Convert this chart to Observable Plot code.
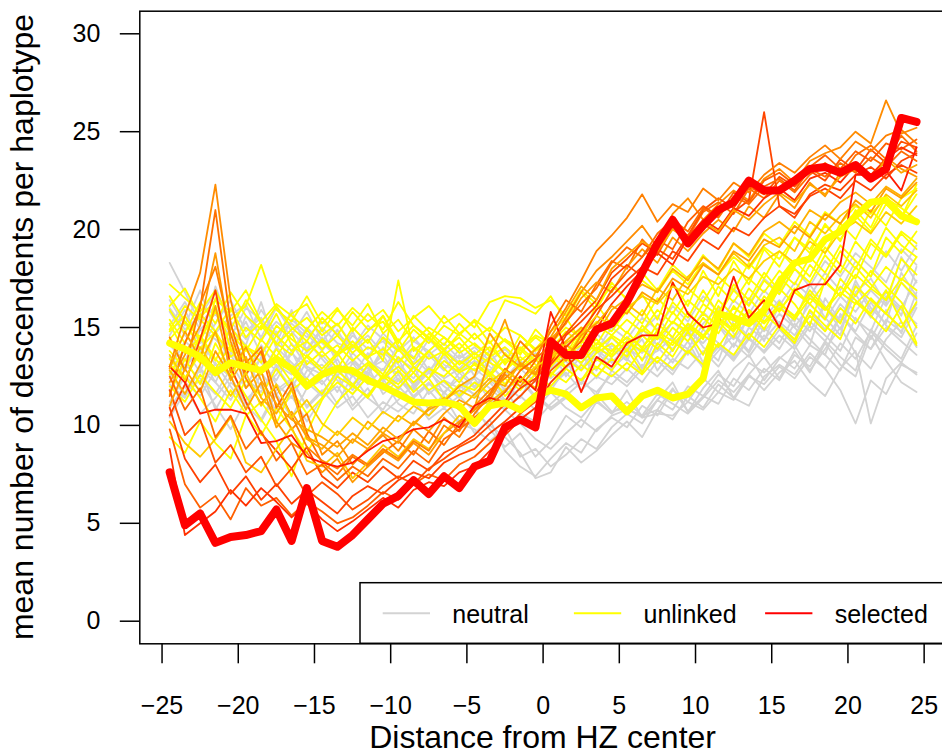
<!DOCTYPE html>
<html>
<head>
<meta charset="utf-8">
<script src="https://cdn.jsdelivr.net/npm/d3@7"></script>
<script src="https://cdn.jsdelivr.net/npm/@observablehq/plot@0.6"></script>
<style>
  html, body { margin: 0; padding: 0; background: #fff; }
  #chart svg { display: block; }
</style>
</head>
<body>
<div id="chart"></div>
<script>
// ---------- data ----------
const distance = [-24.5,-23.5,-22.5,-21.5,-20.5,-19.5,-18.5,-17.5,-16.5,-15.5,-14.5,-13.5,-12.5,-11.5,-10.5,-9.5,-8.5,-7.5,-6.5,-5.5,-4.5,-3.5,-2.5,-1.5,-0.5,0.5,1.5,2.5,3.5,4.5,5.5,6.5,7.5,8.5,9.5,10.5,11.5,12.5,13.5,14.5,15.5,16.5,17.5,18.5,19.5,20.5,21.5,22.5,23.5,24.5];
const xTicks = [-25,-20,-15,-10,-5,0,5,10,15,20,25];
const yTicks = [0,5,10,15,20,25,30];
const legendLabels = ["neutral","unlinked","selected"];

// neutral replicates
const neutral1 = [18.3,16.8,15.2,16.1,14.0,15.3,13.6,14.8,12.9,13.8, 14.9,13.1,12.5,13.7,12.2,13.4,12.0,12.9,11.6,12.7, 11.9,12.8,11.2,12.3,11.4,12.6,13.3,12.1,13.8,12.9, 13.6,14.4,12.8,13.9,14.7,13.2,15.1,14.0,15.6,14.3, 16.2,15.0,14.1,16.5,15.3,17.4,16.0,15.2,17.8,16.6];
const neutral2 = [12.1,11.4,13.0,10.8,12.2,11.5,10.3,11.8,12.4,10.9, 11.7,12.6,11.0,11.9,10.6,11.3,12.1,10.8,11.5,10.2, 10.9,9.8,8.9,9.6,8.4,9.2,10.5,9.9,11.2,10.6, 11.8,10.4,11.3,12.2,10.7,11.9,12.8,11.4,12.6,13.5, 12.4,13.8,12.7,14.2,13.1,12.5,14.6,13.3,12.2,11.7];
const neutral3 = [14.6,15.9,14.2,17.1,15.0,14.1,16.3,13.9,15.4,14.7, 13.8,14.9,13.4,12.6,14.0,13.1,12.4,13.6,12.8,13.9, 12.5,13.3,12.1,11.4,12.7,11.8,12.9,13.7,12.4,13.5, 14.2,12.9,14.6,13.8,15.1,14.0,13.3,15.4,14.5,16.1, 15.2,14.3,16.7,15.5,14.6,17.2,15.8,16.9,15.6,18.1];
const neutral4 = [11.2,12.5,11.8,13.2,12.0,10.9,12.7,11.6,10.4,11.9, 12.3,11.1,12.6,11.4,10.8,12.0,11.2,10.5,11.7,10.9, 9.6,10.3,8.7,7.9,7.4,8.3,9.1,8.6,9.8,10.4, 9.9,11.0,10.5,11.8,11.2,12.4,11.7,12.9,13.6,12.3, 13.4,14.1,12.8,13.9,15.0,13.7,12.9,14.4,15.3,14.0];
const neutral5 = [13.5,12.8,14.4,13.1,12.5,14.0,13.2,12.3,13.7,12.9, 12.1,13.0,11.8,12.7,11.9,12.4,11.5,12.2,11.3,12.0, 11.6,11.0,11.9,10.6,10.2,11.1,11.8,12.4,11.5,12.8, 12.2,13.1,12.5,13.4,12.9,13.8,13.0,14.2,13.5,14.6, 13.9,15.2,14.4,13.6,15.7,14.8,16.3,15.1,14.5,16.0];
const neutral6 = [12.9,14.3,13.6,12.2,13.8,12.6,14.1,13.0,11.9,13.3, 12.8,11.7,13.2,12.1,12.9,11.8,13.0,11.6,12.3,11.9, 12.4,11.3,10.8,10.1,9.3,8.8,9.6,10.3,9.7,10.5, 10.8,10.5,11.6,11.1,10.6,11.4,12.3,11.7,12.6,11.8, 12.7,13.3,12.2,11.5,12.9,13.8,10.1,12.4,13.2,12.6];
const neutral7 = [15.8,14.6,13.9,15.2,16.4,14.8,15.5,14.2,15.9,13.7, 14.5,13.6,14.8,13.3,12.8,14.1,13.5,12.7,13.9,13.2, 13.8,12.6,13.4,12.9,12.2,13.6,14.3,13.1,14.7,13.9, 13.3,14.8,15.6,14.4,13.9,15.2,16.0,14.7,13.8,15.5, 16.4,15.3,17.2,16.1,14.9,16.8,17.5,16.2,18.6,17.3];
const neutral8 = [10.4,11.7,12.3,11.0,9.8,11.3,12.1,10.7,11.5,10.2, 11.4,12.0,10.8,11.6,12.4,11.1,10.6,11.8,10.9,11.5, 10.7,10.0,9.4,8.6,7.3,7.6,8.9,8.1,8.7,9.5, 10.2,9.4,10.8,10.3,11.5,10.9,12.1,11.4,11.0,12.5, 13.1,12.6,13.7,12.9,14.2,13.4,14.8,13.9,13.2,14.7];
const neutral9 = [13.0,12.2,11.5,12.8,13.6,12.4,11.7,13.1,12.6,14.3, 13.4,12.5,13.7,12.9,13.3,12.6,14.0,12.8,13.5,12.4, 12.9,12.3,11.7,12.5,11.9,12.8,13.5,12.9,13.9,13.2, 14.0,13.4,13.8,14.5,13.6,14.9,14.2,13.5,15.0,14.4, 15.3,14.6,15.8,14.9,16.2,15.4,14.8,16.6,15.9,15.2];
const neutral10 = [14.1,13.3,14.9,14.4,13.6,15.6,14.5,16.0,14.8,13.9, 15.0,14.2,13.9,14.6,13.7,13.2,14.3,13.8,12.9,13.6, 13.1,13.8,12.6,12.9,13.4,12.4,13.0,14.1,13.3,14.5, 13.7,14.9,14.1,15.3,14.6,15.8,15.0,16.4,15.7,16.9, 16.1,17.3,16.6,17.8,16.9,18.4,17.6,18.9,17.9,19.2];
const neutral11 = [11.8,13.1,12.4,11.6,12.9,13.5,11.9,12.6,13.8,12.2, 11.5,12.8,12.1,13.0,11.6,12.3,11.9,12.7,12.0,11.4, 12.2,11.6,10.9,11.5,10.8,11.7,10.9,10.4,11.3,10.6, 11.2,10.5,10.8,11.9,10.7,11.5,11.1,12.4,11.8,12.9, 12.3,13.6,13.0,14.3,13.5,12.8,14.9,14.1,13.4,15.1];
const neutral12 = [16.4,15.1,16.9,14.7,15.6,16.2,14.4,15.3,14.6,15.8, 14.3,15.2,14.1,13.5,14.7,13.9,13.2,14.4,13.6,12.9, 13.7,13.0,12.4,13.3,12.6,13.9,12.5,13.6,12.8,14.1, 13.4,12.7,14.0,13.2,14.3,12.9,13.8,14.6,13.7,15.0, 14.2,15.6,14.8,16.1,15.3,16.7,15.5,16.8,16.0,17.4];
const neutral13 = [12.4,13.9,12.7,14.8,13.2,11.9,13.5,12.8,14.2,13.0, 12.6,13.4,12.0,12.8,13.6,12.3,11.8,12.9,12.2,11.6, 12.5,11.9,11.2,10.7,11.6,10.9,11.5,12.2,11.7,12.6, 12.0,12.9,13.5,12.8,13.9,13.1,14.0,13.4,14.5,13.7, 14.6,13.9,15.1,14.3,15.6,14.7,13.9,15.4,14.8,16.2];
const neutral14 = [10.9,12.0,10.6,11.4,12.5,11.1,10.2,11.6,12.3,11.0, 11.8,10.9,11.5,10.4,11.2,10.7,11.4,10.3,10.9,10.1, 9.8,9.2,9.9,8.4,8.8,7.9,8.5,9.3,8.8,9.9, 10.6,10.1,11.3,10.8,12.0,11.5,12.6,12.0,13.2,12.7, 13.5,12.9,14.1,13.6,12.8,14.5,13.9,15.0,14.3,13.6];
const neutral15 = [15.1,16.3,14.9,15.7,14.5,16.0,15.4,14.6,13.8,15.0, 14.2,13.5,14.6,13.9,14.3,13.4,12.9,13.8,13.1,12.7, 13.3,12.8,13.6,13.0,12.7,14.0,13.4,14.6,13.8,15.0, 14.4,15.5,14.9,16.1,15.3,16.6,15.8,17.0,16.2,17.5, 16.8,18.0,17.1,18.4,17.6,18.8,18.1,17.3,19.0,18.2];
const neutral16 = [12.7,11.5,12.9,12.2,11.3,12.6,13.4,12.1,11.4,12.8, 13.1,12.3,11.6,12.5,11.8,12.6,11.4,12.1,11.7,12.4, 11.5,12.2,11.3,11.9,12.6,12.0,12.7,11.8,12.5,12.1, 12.9,12.2,13.3,12.6,13.8,13.0,14.1,13.3,14.4,13.8, 14.9,14.1,15.3,14.6,13.8,15.5,14.4,15.9,14.7,16.8];
const neutral17 = [14.3,13.0,13.8,12.5,14.6,13.3,12.6,14.0,13.2,12.4, 13.6,12.7,13.3,12.5,13.9,12.8,12.1,13.0,12.4,12.9, 12.0,12.7,11.8,12.4,11.5,10.8,11.4,10.9,11.6,10.7, 10.9,10.4,10.6,10.5,11.2,10.8,11.7,11.3,12.5,12.1, 13.0,12.4,13.5,12.9,11.8,10.1,12.3,11.6,13.1,12.7];
const neutral18 = [16.0,14.9,15.6,16.8,15.3,14.4,15.9,14.7,15.2,14.5, 15.3,14.7,14.0,15.1,14.4,13.8,14.5,13.6,14.2,13.4, 14.0,13.3,13.9,13.1,13.7,12.9,13.6,13.2,14.0,13.5, 14.3,13.7,14.5,13.9,14.8,14.2,15.1,14.4,15.5,14.8, 15.7,15.0,16.2,15.4,16.6,15.8,16.9,16.1,17.3,16.4];

// unlinked replicates
const unlinked1 = [17.2,16.5,15.8,16.9,15.4,16.1,18.2,15.9,15.3,16.6, 15.2,16.0,14.8,15.7,14.9,16.3,15.1,14.4,15.6,14.7, 15.3,14.2,15.0,14.6,13.9,14.8,15.5,14.3,16.2,15.1, 15.8,16.7,15.4,17.3,16.1,17.9,16.6,18.4,17.2,19.0, 18.1,19.6,18.8,20.3,19.4,21.0,20.1,21.7,20.6,22.3];
const unlinked2 = [11.6,13.4,12.1,14.2,12.8,11.5,10.3,9.2,7.4,9.6, 11.3,12.5,12.0,13.1,12.4,13.5,12.7,13.8,12.9,12.2, 13.2,12.6,13.7,12.8,13.4,12.5,13.6,14.1,12.9,13.8, 14.5,13.3,14.9,13.8,15.2,14.4,16.1,15.0,16.5,15.6, 17.0,16.2,15.1,17.4,16.6,18.1,17.2,16.4,18.5,17.7];
const unlinked3 = [14.8,15.6,14.3,15.9,14.7,13.8,15.1,14.2,13.6,14.9, 13.9,14.6,13.7,14.4,13.3,17.4,13.8,14.5,13.6,14.2, 13.4,14.0,13.2,14.6,13.8,14.3,13.6,15.0,14.1,15.4, 14.7,15.9,14.8,16.3,15.5,16.9,15.7,17.2,16.4,17.8, 16.9,18.4,17.6,19.1,18.2,17.5,19.3,18.6,19.8,19.0];
const unlinked4 = [13.1,12.4,13.7,12.9,14.1,13.3,12.6,13.9,12.8,13.5, 12.7,13.6,14.3,13.4,14.5,13.8,14.9,14.2,15.1,14.6, 15.4,14.8,16.4,16.1,15.7,16.6,15.3,16.8,15.9,17.3, 16.4,17.8,16.9,18.2,17.5,18.7,17.9,19.3,18.6,19.8, 19.2,20.4,19.7,20.9,20.3,21.2,20.8,21.6,21.1,20.5];
const unlinked5 = [9.4,8.6,10.2,9.1,8.3,10.5,11.2,10.1,11.8,10.6, 11.4,12.2,11.6,12.5,11.9,12.8,11.7,12.4,11.3,12.1, 11.8,12.6,11.5,12.3,11.9,12.7,12.2,13.1,12.5,13.4, 12.8,13.9,13.2,14.3,13.7,14.6,14.0,15.2,14.4,15.7, 15.0,14.2,15.9,15.1,14.4,16.3,15.6,14.8,16.1,14.2];
const unlinked6 = [15.9,14.7,16.3,15.2,16.8,15.6,14.9,16.1,15.0,14.3, 15.5,14.6,15.8,14.9,15.3,14.2,15.6,14.8,14.1,15.2, 14.4,15.0,14.3,13.7,14.5,13.9,14.8,14.2,15.1,14.6, 15.4,14.8,15.9,15.2,16.4,15.7,17.1,16.3,17.5,16.8, 17.9,17.2,18.6,17.8,19.2,18.4,17.6,19.6,18.8,19.9];
const unlinked7 = [12.6,14.0,13.2,16.5,13.9,12.8,14.4,13.5,14.7,13.1, 13.8,12.9,14.1,13.3,12.6,13.9,13.0,12.4,13.7,12.8, 13.5,12.7,12.1,13.2,12.5,13.6,12.9,12.3,13.4,12.8, 13.9,12.7,14.2,13.5,14.8,13.6,15.3,14.5,15.9,14.9, 16.3,15.5,16.9,16.0,15.2,17.1,16.4,15.7,17.3,16.5];
const unlinked8 = [16.6,15.3,14.5,15.8,14.9,16.4,15.2,14.6,15.7,16.2, 14.8,15.9,15.1,16.2,14.7,15.4,14.3,15.0,14.5,13.9, 14.7,13.8,14.4,13.6,14.9,14.1,13.5,14.7,13.9,14.5, 13.8,15.1,14.4,15.8,14.9,16.2,15.6,16.9,16.1,17.4, 16.7,18.0,17.3,18.7,17.8,19.4,18.5,20.1,19.2,18.6];
const unlinked9 = [13.8,12.9,14.6,13.4,12.5,13.9,12.7,13.3,12.2,13.6, 12.9,13.7,12.6,13.2,12.4,13.0,12.2,12.9,12.5,13.3, 12.8,13.5,12.7,13.9,13.1,12.6,13.4,12.8,13.7,14.2, 13.5,14.6,13.9,15.0,14.3,15.5,14.7,16.1,15.3,16.6, 15.8,17.0,16.2,15.4,17.5,16.6,17.9,17.1,16.3,15.0];
const unlinked10 = [14.9,16.1,15.4,14.6,13.8,15.0,14.3,15.7,14.1,13.5, 14.4,13.7,15.0,14.2,15.6,14.0,13.4,14.7,13.9,14.5, 13.6,14.3,13.1,14.0,13.3,13.8,13.0,13.7,14.4,13.6, 14.8,13.9,15.2,14.5,15.8,14.9,16.4,15.6,17.0,16.2, 17.6,16.8,18.2,17.4,18.9,18.0,19.5,18.7,19.9,19.3];
const unlinked11 = [15.4,14.2,15.7,14.8,16.0,14.5,15.3,14.1,14.9,15.5, 14.6,15.2,14.0,14.8,15.6,14.3,15.1,14.5,13.8,14.7, 14.1,13.6,14.4,13.9,14.6,14.2,15.0,14.5,15.3,14.8, 15.9,15.2,16.5,15.7,17.0,16.3,17.6,16.9,18.3,17.5, 18.9,18.1,19.6,18.8,20.3,19.5,21.0,20.2,21.6,22.1];
const unlinked12 = [12.0,11.2,12.6,11.7,10.9,12.3,11.5,12.9,11.8,12.4, 11.6,12.8,12.1,11.4,12.5,11.9,12.7,11.8,12.3,11.5, 12.2,11.6,12.4,11.8,12.6,12.0,12.9,12.3,13.0,12.5, 13.2,12.6,13.5,12.9,13.8,13.1,14.2,13.6,14.7,14.0, 15.1,14.4,15.6,14.8,16.0,15.2,16.5,15.7,15.0,16.3];
const unlinked13 = [16.1,17.0,15.5,16.4,15.8,16.9,15.3,16.2,15.6,14.9, 15.8,15.1,16.0,15.3,15.9,14.8,15.5,16.1,15.2,15.7, 15.0,16.3,16.6,16.5,16.0,16.4,15.6,16.9,16.2,17.1, 16.5,17.4,16.8,17.9,17.2,18.3,17.7,18.6,18.0,19.1, 18.5,19.6,19.0,20.2,19.5,20.7,19.9,21.3,20.6,21.8];
const unlinked14 = [13.4,12.5,11.4,10.2,11.8,10.6,9.5,10.9,9.8,8.6, 9.9,11.2,12.0,11.5,12.6,12.1,13.0,12.4,13.3,12.7, 13.1,12.5,13.4,12.9,13.6,13.0,13.8,13.2,14.0,13.5, 14.3,13.8,14.6,14.1,15.0,14.5,15.4,14.8,15.8,15.2, 16.0,15.4,16.5,15.9,16.8,16.2,17.0,16.4,17.5,16.9];
const unlinked15 = [14.4,15.3,13.9,14.8,13.5,14.1,13.2,14.6,13.8,14.3, 13.5,14.1,13.3,14.0,13.6,14.4,13.1,13.8,14.5,13.7, 14.2,13.5,14.0,13.3,13.9,14.4,13.7,14.3,13.8,14.6, 14.1,14.9,14.4,15.3,14.8,15.7,15.1,16.0,15.5,16.4, 15.9,16.8,16.2,17.3,16.6,17.7,17.0,18.1,17.4,18.6];
const unlinked16 = [15.2,13.7,14.5,13.3,15.0,14.0,13.6,15.1,14.4,13.8, 14.3,13.6,14.1,13.5,13.9,13.2,14.0,13.4,13.8,13.1, 13.7,13.2,12.8,13.5,12.9,13.3,13.9,13.4,14.2,13.8, 14.5,14.0,14.8,14.3,15.2,14.6,15.5,14.9,15.9,15.3, 16.2,15.6,16.7,15.9,17.1,16.4,15.7,16.9,15.3,14.1];

// selected replicates (each drawn in its own shade)
const selected1 = [13.0,15.6,17.8,22.3,16.4,13.2,14.0,11.5,9.8,10.6, 8.5,9.2,8.0,8.8,9.5,8.7,9.8,9.1,10.4,9.7, 11.0,11.8,12.4,13.1,12.6,14.2,15.5,16.8,17.9,18.6, 19.4,20.2,19.1,20.8,21.6,20.5,21.3,22.0,21.5,22.6, 23.1,22.4,23.5,23.9,24.2,25.0,24.4,26.6,24.9,25.2];
const selected2 = [11.5,14.2,16.0,21.0,15.2,12.6,13.8,10.9,12.2,9.6, 8.1,7.5,8.4,7.9,8.6,9.2,8.5,9.7,9.0,10.1, 10.8,11.6,12.9,12.2,13.3,15.1,16.4,15.8,17.2,18.4, 18.0,19.5,18.7,20.1,19.6,20.9,21.4,20.8,22.1,21.6, 22.5,21.9,22.8,23.4,22.7,23.8,24.3,23.6,24.8,24.0];
const selected3 = [12.2,13.6,15.1,18.8,14.3,11.9,12.8,10.2,9.1,8.6, 7.6,8.3,7.1,7.9,8.7,8.2,9.1,8.5,9.6,10.2, 10.8,11.3,12.6,12.0,12.9,14.4,15.2,16.5,17.3,16.8, 18.1,19.0,18.3,19.6,18.9,19.8,20.5,19.9,21.2,20.6, 21.8,21.1,22.4,21.7,22.9,23.3,22.6,23.7,23.1,22.7];
const selected4 = [10.5,12.1,14.4,16.9,13.0,11.2,9.6,8.7,7.8,8.9, 7.4,6.8,7.6,7.1,7.9,7.3,8.2,7.7,8.6,9.0, 9.5,10.3,11.1,11.9,12.4,13.2,14.6,15.3,16.1,17.5, 18.2,17.6,19.0,18.5,19.7,20.3,19.8,20.9,21.5,26.0, 21.2,20.6,21.8,22.3,22.0,22.8,23.2,22.6,23.5,23.9];
const selected5 = [10.2,9.1,8.4,9.3,10.4,8.1,7.6,8.8,9.9,8.2, 7.9,8.6,7.3,8.1,9.0,8.4,9.3,8.8,9.6,10.5, 10.0,11.2,11.8,12.5,11.9,13.4,14.1,13.6,14.8,15.4, 16.2,15.6,17.0,16.4,17.6,18.3,17.7,18.8,18.1,19.2, 19.6,18.9,20.4,19.8,20.7,21.3,20.6,21.8,21.2,22.0];
const selected6 = [9.8,7.0,5.8,6.4,5.2,6.8,5.9,6.3,5.4,6.1, 5.6,5.0,5.3,5.9,6.6,6.2,7.0,7.5,7.2,8.0, 8.4,9.1,9.8,10.6,11.2,12.8,13.5,14.3,15.6,16.9, 17.8,18.6,19.5,19.0,20.4,21.2,20.7,21.9,21.4,22.5, 22.9,22.3,23.2,23.8,23.1,24.0,23.5,24.4,24.1,24.6];
const selected7 = [8.8,4.4,5.0,5.6,6.7,5.9,6.8,6.1,5.3,6.0, 5.2,4.6,5.1,5.7,6.3,5.8,6.7,7.1,6.9,7.6, 7.9,8.7,9.5,10.3,10.9,12.2,13.0,13.7,14.9,16.2, 17.1,17.9,18.8,18.2,19.6,20.5,20.0,21.1,20.7,21.6, 22.1,21.5,22.6,22.9,22.4,23.3,22.8,23.6,24.2,23.8];
const selected8 = [11.8,9.5,10.3,8.1,9.0,7.6,8.4,6.9,7.8,6.4, 7.1,6.5,5.7,6.2,6.9,7.4,7.0,7.8,8.3,8.9, 9.3,10.0,10.8,11.5,12.3,13.8,14.7,15.6,16.4,17.8, 18.5,19.3,18.8,20.2,19.7,21.0,21.6,21.1,22.2,21.8, 22.7,22.2,23.0,22.5,23.6,23.0,24.1,23.4,24.5,24.2];
const selected9 = [12.8,11.6,13.1,14.8,12.3,13.5,11.4,10.6,11.9,9.3, 8.8,9.7,9.1,10.2,9.6,10.5,10.0,10.9,11.4,10.8, 11.6,12.4,12.0,13.2,12.7,13.6,14.3,15.0,14.6,15.9, 16.5,17.2,16.8,18.0,17.4,18.6,18.0,19.3,18.7,19.9, 20.4,19.8,21.0,20.5,21.4,21.9,21.3,22.2,21.7,22.6];
const selected10 = [14.5,12.8,16.2,18.1,14.7,12.4,11.1,12.0,10.5,8.9, 8.2,7.8,8.5,8.0,8.8,8.3,9.2,8.7,10.0,9.4, 10.6,11.5,12.7,14.3,13.5,14.8,16.0,17.4,18.9,19.7, 20.6,21.8,20.4,21.3,20.9,22.1,21.5,22.4,21.9,22.8, 23.4,22.9,23.7,24.3,23.6,24.5,24.0,24.8,25.1,24.4];
const selected11 = [11.0,12.9,11.7,13.8,12.5,10.8,12.2,9.9,10.7,9.4, 9.0,8.4,9.3,8.8,9.6,9.1,10.2,9.7,10.6,11.3, 10.9,13.5,15.4,13.1,12.6,14.0,13.3,14.6,15.2,16.1, 15.7,16.8,16.3,17.5,17.0,18.2,17.7,18.9,18.4,19.5, 19.1,20.2,19.6,20.8,20.3,21.5,20.9,22.1,21.6,22.4];
const selected12 = [13.0,12.2,10.6,10.8,10.8,10.6,9.1,9.2,9.5,8.4, 8.1,7.9,8.1,8.7,9.2,9.4,9.8,9.9,10.3,9.9, 11.0,11.4,11.2,12.5,11.8,15.8,13.9,11.7,13.5,13.0, 14.2,14.6,14.6,17.3,15.7,15.0,15.2,17.6,15.5,16.4, 15.0,16.9,17.2,17.2,18.2,22.8,22.8,23.0,22.0,24.2];
const selected13 = [13.6,12.3,14.0,12.8,11.5,12.7,11.0,12.1,10.4,11.3, 10.1,9.5,10.4,9.8,10.7,10.2,11.0,10.5,11.3,11.8, 11.4,12.2,12.8,12.3,13.0,13.5,14.2,14.7,15.6,15.1, 16.0,16.6,16.2,17.1,16.7,17.6,17.2,18.0,17.5,18.4, 18.9,18.3,19.4,18.8,19.9,20.4,19.8,20.9,20.3,21.2];
const selected14 = [12.5,10.8,11.9,9.4,10.5,8.8,9.7,8.2,9.1,7.5, 8.0,7.2,7.9,7.4,8.3,7.8,8.7,8.1,9.3,9.8, 10.4,11.0,11.7,12.8,13.4,14.1,15.3,16.2,17.0,18.3, 19.1,18.6,19.8,20.5,19.9,21.1,20.6,21.7,21.3,22.2, 22.6,22.0,23.1,22.7,23.4,22.9,23.7,23.2,24.0,23.5];
const selected15 = [10.9,8.3,7.1,8.0,6.5,7.4,6.2,7.0,6.0,6.7, 6.1,5.5,6.4,6.9,6.5,7.2,7.6,7.3,8.1,8.5, 8.8,9.6,10.2,10.9,11.6,13.1,14.0,14.8,15.9,16.6, 17.4,18.1,17.7,18.9,18.4,19.5,19.0,20.1,19.7,20.6, 21.2,20.8,21.7,22.1,21.6,22.5,22.0,22.8,23.3,22.9];
const selected16 = [12.9,14.8,13.4,16.1,12.7,14.0,12.3,11.1,10.3,9.8, 9.4,8.9,9.6,9.0,9.9,9.3,10.1,10.8,11.2,12.0, 12.5,14.7,13.6,13.0,13.9,14.5,15.8,17.1,16.4,18.0, 18.7,19.4,18.9,20.0,19.5,20.4,19.9,21.0,20.5,21.3, 21.9,21.4,22.3,21.8,22.7,23.1,22.5,23.6,22.9,23.3];

// means
const unlinkedMean = [14.2,13.9,13.5,12.7,13.2,13.0,12.8,13.4,12.9,12.0, 12.6,12.9,12.8,12.3,12.0,11.6,11.2,11.15,11.2,11.0, 10.1,11.0,11.15,10.8,11.5,11.8,11.6,10.9,11.4,11.5, 10.7,11.5,11.8,11.4,11.6,12.4,15.7,15.5,15.2,15.9, 17.3,18.3,18.5,19.5,19.9,20.7,21.4,21.5,20.7,20.4];
const selectedMean = [7.6,4.9,5.5,4.0,4.3,4.4,4.6,5.7,4.1,6.8, 4.1,3.8,4.4,5.2,6.0,6.4,7.2,6.5,7.4,6.8, 7.9,8.2,9.9,10.3,9.9,14.3,13.6,13.6,14.9,15.2, 16.3,17.8,19.3,20.5,19.3,20.2,21.0,21.4,22.5,22.0, 22.0,22.5,23.1,23.2,22.9,23.3,22.6,23.1,25.7,25.5];

// ---------- styles ----------
const neutralColor = "#d3d3d3";
const unlinkedColor = "#ffff00";
const selectedColor = "#ff0000";
const selectedShades = ["#ff8c00","#ff7000","#ff9900","#ff4500","#ffc800","#ff6000","#ff3000","#ff5000","#ffb000","#ff8000","#ffa000","#ff1a00","#ffd000","#ff6a00","#ff4000","#ffa500"];
const legendColors = [neutralColor, unlinkedColor, selectedColor];
const FONT = "'Liberation Sans', Arial, Helvetica, sans-serif";

const neutralRuns = [neutral1,neutral2,neutral3,neutral4,neutral5,neutral6,neutral7,neutral8,neutral9,neutral10,neutral11,neutral12,neutral13,neutral14,neutral15,neutral16,neutral17,neutral18];
const unlinkedRuns = [unlinked1,unlinked2,unlinked3,unlinked4,unlinked5,unlinked6,unlinked7,unlinked8,unlinked9,unlinked10,unlinked11,unlinked12,unlinked13,unlinked14,unlinked15,unlinked16];
const selectedRuns = [selected1,selected2,selected3,selected4,selected5,selected6,selected7,selected8,selected9,selected10,selected11,selected12,selected13,selected14,selected15,selected16];

const lineOf = (vals, stroke, w) => Plot.line(vals, {
  x: (d, i) => distance[i], y: d => d,
  stroke, strokeWidth: w, strokeLinejoin: "round", strokeLinecap: "round"
});

const marks = [
  ...neutralRuns.map(v => lineOf(v, neutralColor, 1.8)),
  ...unlinkedRuns.map(v => lineOf(v, unlinkedColor, 1.8)),
  ...selectedRuns.map((v, k) => lineOf(v, selectedShades[k], 1.8)),
  lineOf(unlinkedMean, unlinkedColor, 7),
  lineOf(selectedMean, selectedColor, 8),
  Plot.frame({stroke: "black", strokeWidth: 1.5}),
  Plot.axisX({ticks: xTicks, tickSize: 20, tickPadding: 32, label: null, strokeWidth: 1.5, fontSize: 25}),
  Plot.axisY({ticks: yTicks, tickSize: 19.5, tickPadding: 20, label: null, strokeWidth: 1.5, fontSize: 25})
];

const plot = Plot.plot({
  width: 942, height: 756,
  marginLeft: 139.3, marginRight: -3.9, marginTop: 10.7, marginBottom: 112.7,
  x: {domain: [-26.46, 26.46]},
  y: {domain: [-1.154, 31.154]},
  style: {fontFamily: FONT, fontSize: "25px", background: "white", color: "black"},
  marks
});

// legend (inside plot box, bottom right)
const svg = d3.select(plot);
const lg = svg.append("g").attr("font-family", FONT).attr("font-size", 25).attr("text-anchor", "start");
lg.append("rect").attr("x", 360).attr("y", 582.7).attr("width", 620).attr("height", 60.6)
  .attr("fill", "white").attr("stroke", "black").attr("stroke-width", 1.5);
legendLabels.forEach((lab, k) => {
  const x0 = 382.7 + k * 191.2;
  lg.append("line").attr("x1", x0).attr("x2", x0 + 47.3).attr("y1", 613.3).attr("y2", 613.3)
    .attr("stroke", legendColors[k]).attr("stroke-width", 2);
  lg.append("text").attr("x", x0 + 69.6).attr("y", 622.5).attr("text-anchor", "start").attr("fill", "black").text(lab);
});

// axis titles
svg.append("text").attr("x", 542.6).attr("y", 748).attr("text-anchor", "middle")
  .attr("font-family", FONT).attr("font-size", 32).attr("fill", "black").text("Distance from HZ center");
svg.append("text").attr("transform", "translate(33,327) rotate(-90)").attr("text-anchor", "middle")
  .attr("font-family", FONT).attr("font-size", 32).attr("fill", "black").text("mean number of descendents per haplotype");

document.getElementById("chart").appendChild(plot);
</script>
</body>
</html>
